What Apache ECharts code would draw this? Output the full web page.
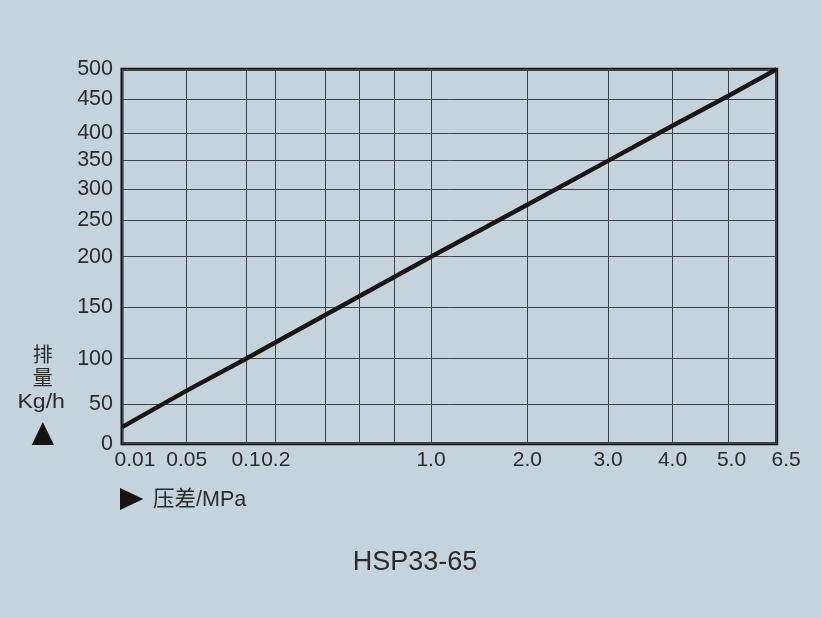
<!DOCTYPE html>
<html>
<head>
<meta charset="utf-8">
<style>
html,body{margin:0;padding:0;background:#c5d3dd;}
#chart{width:821px;height:618px;}
</style>
<script src="https://cdn.jsdelivr.net/npm/echarts@6/dist/echarts.min.js"></script>
</head>
<body>
<div id="chart"></div>
<script>
// ---- Data ----
const pressure = [0.01, 0.05, 0.1, 0.2, 1.0, 2.0, 3.0, 4.0, 5.0, 6.5];   // MPa
const flow     = [21, 65, 100, 116, 200, 275, 349, 411, 456, 500];        // Kg/h

// ---- Axis scale definition (non-uniform printed scales) ----
const xStopValues = [0.01, 0.05, 0.1, 0.2, 0.4, 0.6, 0.8, 1.0, 2.0, 3.0, 4.0, 5.0, 6.5];
const xStopFrac   = [0, 0.0988, 0.1894, 0.2348, 0.3111, 0.3631, 0.4159, 0.472, 0.6191, 0.7423, 0.8408, 0.9264, 1];
const xTickLabels = ['0.01', '0.05', '0.1', '0.2', '1.0', '2.0', '3.0', '4.0', '5.0', '6.5'];
const xTickValues = [0.01, 0.05, 0.1, 0.2, 1.0, 2.0, 3.0, 4.0, 5.0, 6.5];

const yStopValues = [0, 50, 100, 150, 200, 250, 300, 350, 400, 450, 500];
const yStopFrac   = [0, 0.1052, 0.227, 0.3643, 0.4995, 0.5967, 0.6795, 0.757, 0.829, 0.9199, 1];
const yTickLabels = ['0', '50', '100', '150', '200', '250', '300', '350', '400', '450', '500'];

function makeScale(vals, fracs) {
  return function (v) {
    for (let i = 0; i < vals.length - 1; i++) {
      if (v <= vals[i + 1] || i === vals.length - 2) {
        const t = (v - vals[i]) / (vals[i + 1] - vals[i]);
        return fracs[i] + t * (fracs[i + 1] - fracs[i]);
      }
    }
    return fracs[fracs.length - 1];
  };
}
const xScale = makeScale(xStopValues, xStopFrac);
const yScale = makeScale(yStopValues, yStopFrac);

const xLabelPos = xTickValues.map(xScale);
const yLabelPos = yStopValues.map(yScale);

function nearestIdx(arr, v) {
  let best = 0, bd = Infinity;
  arr.forEach((a, i) => { const d = Math.abs(a - v); if (d < bd) { bd = d; best = i; } });
  return best;
}

const lineData = pressure.map((p, i) => [xScale(p), yScale(flow[i])]);

const FONT = '"Liberation Sans", Arial, Helvetica, sans-serif';
const CJK = '"Liberation Sans", "Noto Sans CJK SC", sans-serif';
const TXT = '#2b2b2b';

const chart = echarts.init(document.getElementById('chart'), null, {renderer: 'canvas'});
chart.setOption({
  backgroundColor: '#c5d3dd',
  animation: false,
  title: {
    text: 'HSP33-65',
    left: 410, top: 544, textAlign: 'center',
    textStyle: {fontFamily: FONT, fontSize: 27, fontWeight: 'normal', color: TXT}
  },
  grid: {
    left: 122, top: 69.3, right: 44.3, bottom: 174.3,
    show: true, borderColor: '#141414', borderWidth: 3, backgroundColor: 'transparent'
  },
  xAxis: {
    type: 'value', min: 0, max: 1,
    axisLine: {show: false},
    axisTick: {show: false, customValues: xStopFrac},
    splitLine: {show: true, lineStyle: {color: '#3c434a', width: 1}},
    axisLabel: {
      customValues: xLabelPos,
      margin: 6,
      fontFamily: FONT, fontSize: 21, color: TXT,
      formatter: function (v) {
        const i = nearestIdx(xLabelPos, v);
        const t = xTickLabels[i];
        if (i === 0) return '{a|' + t + '}';
        if (i === xTickLabels.length - 1) return '{b|' + t + '}';
        if (i === xTickLabels.length - 2) return '{c|' + t + '}';
        return t;
      },
      rich: {
        a: {fontFamily: FONT, fontSize: 21, color: TXT, padding: [0, 0, 0, 26]},
        b: {fontFamily: FONT, fontSize: 21, color: TXT, padding: [0, 0, 0, 19]},
        c: {fontFamily: FONT, fontSize: 21, color: TXT, padding: [0, 0, 0, 6]}
      }
    }
  },
  yAxis: {
    type: 'value', min: 0, max: 1,
    axisLine: {show: false},
    axisTick: {show: false, customValues: yStopFrac},
    splitLine: {show: true, lineStyle: {color: '#3c434a', width: 1}},
    axisLabel: {
      customValues: yLabelPos,
      margin: 9,
      fontFamily: FONT, fontSize: 21.5, color: TXT,
      formatter: function (v) { return yTickLabels[nearestIdx(yLabelPos, v)]; }
    }
  },
  series: [{
    type: 'line',
    data: lineData,
    symbol: 'none',
    clip: false,
    lineStyle: {color: '#1b1515', width: 4.5},
    z: 5
  }],
  graphic: [
    {type: 'text', x: 42.7, y: 354, style: {text: '排', font: '20px "Noto Sans CJK SC", sans-serif', fill: TXT, align: 'center', verticalAlign: 'middle'}},
    {type: 'text', x: 42.7, y: 377, style: {text: '量', font: '20px "Noto Sans CJK SC", sans-serif', fill: TXT, align: 'center', verticalAlign: 'middle'}},
    {type: 'text', x: 41.2, y: 402, scaleX: 1.1, originX: 0, originY: 0, style: {text: 'Kg/h', font: '21px ' + FONT, fill: TXT, align: 'center', verticalAlign: 'middle'}},
    {type: 'polygon', shape: {points: [[42.8, 422], [54, 445], [31.7, 445]]}, style: {fill: '#141414'}},
    {type: 'polygon', shape: {points: [[120, 488], [143.3, 499], [120, 510]]}, style: {fill: '#141414'}},
    {type: 'text', x: 153, y: 500, style: {text: '压差/MPa', font: '21.5px ' + CJK, fill: TXT, align: 'left', verticalAlign: 'middle'}}
  ]
});
</script>
</body>
</html>
